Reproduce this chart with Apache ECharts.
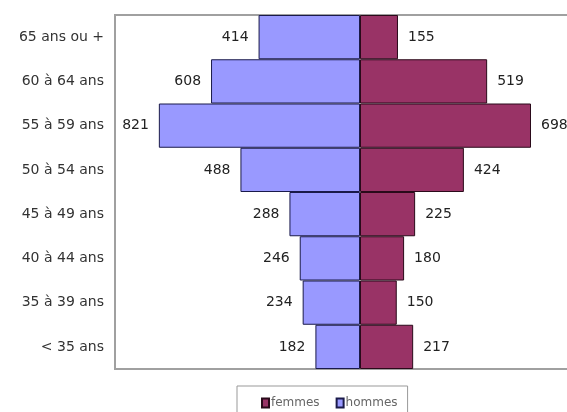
<!DOCTYPE html>
<html><head><meta charset="utf-8">
<script src="https://cdn.jsdelivr.net/npm/echarts@6/dist/echarts.min.js"></script>
<style>html,body{margin:0;padding:0;background:#fff}#c{width:567px;height:412px}</style>
</head><body><div id="c"></div>
<script>
var categories = ['65 ans ou +','60 à 64 ans','55 à 59 ans','50 à 54 ans','45 à 49 ans','40 à 44 ans','35 à 39 ans','< 35 ans'];
var hommes = [414, 608, 821, 488, 288, 246, 234, 182];
var femmes = [155, 519, 698, 424, 225, 180, 150, 217];

var FONT = 'DejaVu Sans, Liberation Sans, Arial';
var chart = echarts.init(document.getElementById('c'));
chart.setOption({
  animation: false,
  backgroundColor: '#fff',
  grid: {left: 115, top: 15, width: 490, height: 354, show: true, borderColor: '#a0a0a0', borderWidth: 2,
         containLabel: false, outerBoundsMode: 'none'},
  xAxis: {type: 'value', min: -1000, max: 1000, show: false},
  yAxis: {type: 'category', data: categories, inverse: true,
    axisLine: {show: false}, axisTick: {show: false},
    axisLabel: {margin: 11, fontFamily: FONT, fontSize: 14, color: '#333'}},
  legend: {
    data: ['femmes','hommes'], left: 237, top: 386,
    padding: [11, 10, 14, 24], borderColor: '#999', borderWidth: 1,
    itemWidth: 7, itemHeight: 9, itemGap: 16, icon: 'rect',
    textStyle: {fontFamily: FONT, fontSize: 12, color: '#666', padding: [0, 0, 0, -3]}
  },
  series: [
    {name: 'hommes', type: 'bar', stack: 'p', barCategoryGap: 0,
     data: hommes.map(function(v){return -v;}),
     itemStyle: {color: '#9999ff', borderColor: '#1a1a4a', borderWidth: 1},
     label: {show: true, position: 'left', distance: 10, color: '#222', fontFamily: FONT, fontSize: 14,
       formatter: function(p){return Math.abs(p.value);}}},
    {name: 'femmes', type: 'bar', stack: 'p', barCategoryGap: 0,
     data: femmes,
     itemStyle: {color: '#993366', borderColor: '#2a0a1a', borderWidth: 1},
     label: {show: true, position: 'right', distance: 10, color: '#222', fontFamily: FONT, fontSize: 14}}
  ]
});
</script></body></html>
